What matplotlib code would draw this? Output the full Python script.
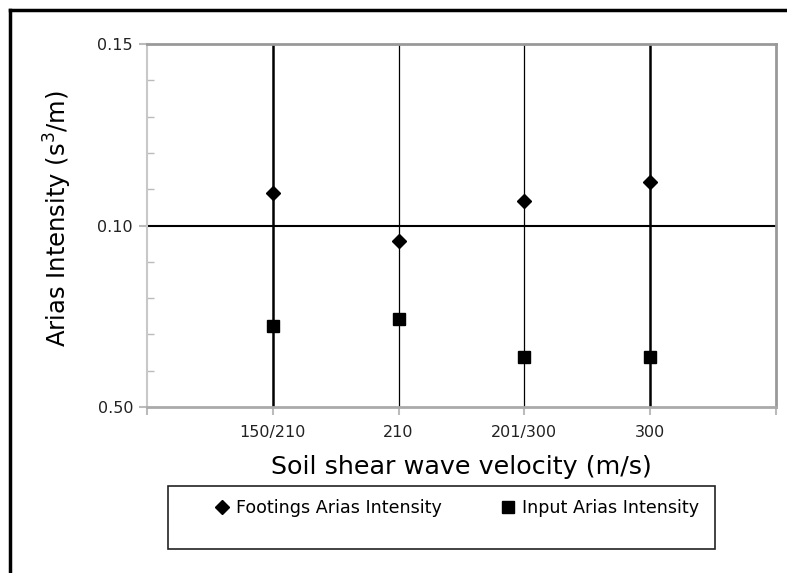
import matplotlib.pyplot as plt
from matplotlib.lines import Line2D
from matplotlib.patches import Rectangle
import numpy as np

# velocity groups and measured intensities
categorias = ['150/210', '210', '201/300', '300']
footings = [0.1089, 0.0957, 0.1068, 0.1121]
input_ai = [0.0724, 0.0742, 0.0639, 0.0639]
yticks = [0.05, 0.10, 0.15]
ylabels = ['0.50', '0.10', '0.15']

plt.rcParams['font.family'] = ['DejaVu Sans']

fig = plt.figure(figsize=(7.87, 5.73), dpi=100)
ax = fig.add_axes([147/787, 1-407/573, (776-147)/787, (407-44)/573])

x = np.arange(1, len(categorias)+1)

# linhas verticais em cada categoria (grossas nas extremidades)
larguras = [1.8, 0.9, 0.9, 1.8]
for xi, lw in zip(x, larguras):
	ax.axvline(xi, color='black', lw=lw, zorder=1)
ax.axhline(0.10, color='black', lw=1.5, zorder=1)

ax.plot(x, footings, 'D', color='black', ms=7, ls='none', zorder=3, label='Footings Arias Intensity')
ax.plot(x, input_ai, 's', color='black', ms=9, ls='none', zorder=3, label='Input Arias Intensity')

ax.set_xlim(0, len(categorias)+1)
ax.set_ylim(0.05, 0.15)
ax.set_xticks(np.arange(0, len(categorias)+2))
ax.set_xticklabels([''] + categorias + [''])
ax.set_yticks(yticks)
ax.set_yticklabels(ylabels)
ax.set_yticks(np.arange(0.05, 0.151, 0.01), minor=True)

ax.tick_params(axis='x', direction='out', length=6, width=1.5, color='#bbbbbb', pad=7, labelsize=11.5, labelcolor='#222222')
ax.tick_params(axis='y', which='major', direction='out', length=6, width=1.5, color='#bbbbbb', pad=4, labelsize=11.5, labelcolor='#222222')
ax.tick_params(axis='y', which='minor', direction='in', length=5, width=1, color='#bbbbbb')

for lado in ['top', 'right']:
	ax.spines[lado].set_color('#999999')
	ax.spines[lado].set_linewidth(2)
ax.spines['left'].set_color('#c8c8c8')
ax.spines['left'].set_linewidth(1.5)
ax.spines['bottom'].set_color('#aaaaaa')
ax.spines['bottom'].set_linewidth(2)

ax.set_xlabel('Soil shear wave velocity (m/s)', fontsize=18.3)
ax.xaxis.set_label_coords(0.5, -(467-407)/363)
ax.xaxis.label.set_va('center')
ax.set_ylabel('Arias Intensity (s$^{3}$/m)', fontsize=17.5)
ax.yaxis.set_label_coords(-(147-58)/629, (407-219)/363)
ax.yaxis.label.set_va('center')

# caixa da legenda
fig.add_artist(Rectangle((168/787, 1-549/573), (715-168)/787, 63/573, transform=fig.transFigure,
	fill=False, edgecolor='#222222', lw=1.2))
fig.legend(loc='center left', bbox_to_anchor=(215/787, 1-508/573), ncol=2, frameon=False,
	fontsize=12.6, handlelength=0.8, handletextpad=0.4, columnspacing=3.37, borderaxespad=0, borderpad=0,
	markerscale=1.0)

# moldura externa
fig.add_artist(Line2D([10/787, 10/787], [0, 1-10/573], color='black', lw=2.5, transform=fig.transFigure))
fig.add_artist(Line2D([10/787, 1], [1-10/573, 1-10/573], color='black', lw=2.5, transform=fig.transFigure))

plt.savefig('out.png', dpi=100)
plt.close()
